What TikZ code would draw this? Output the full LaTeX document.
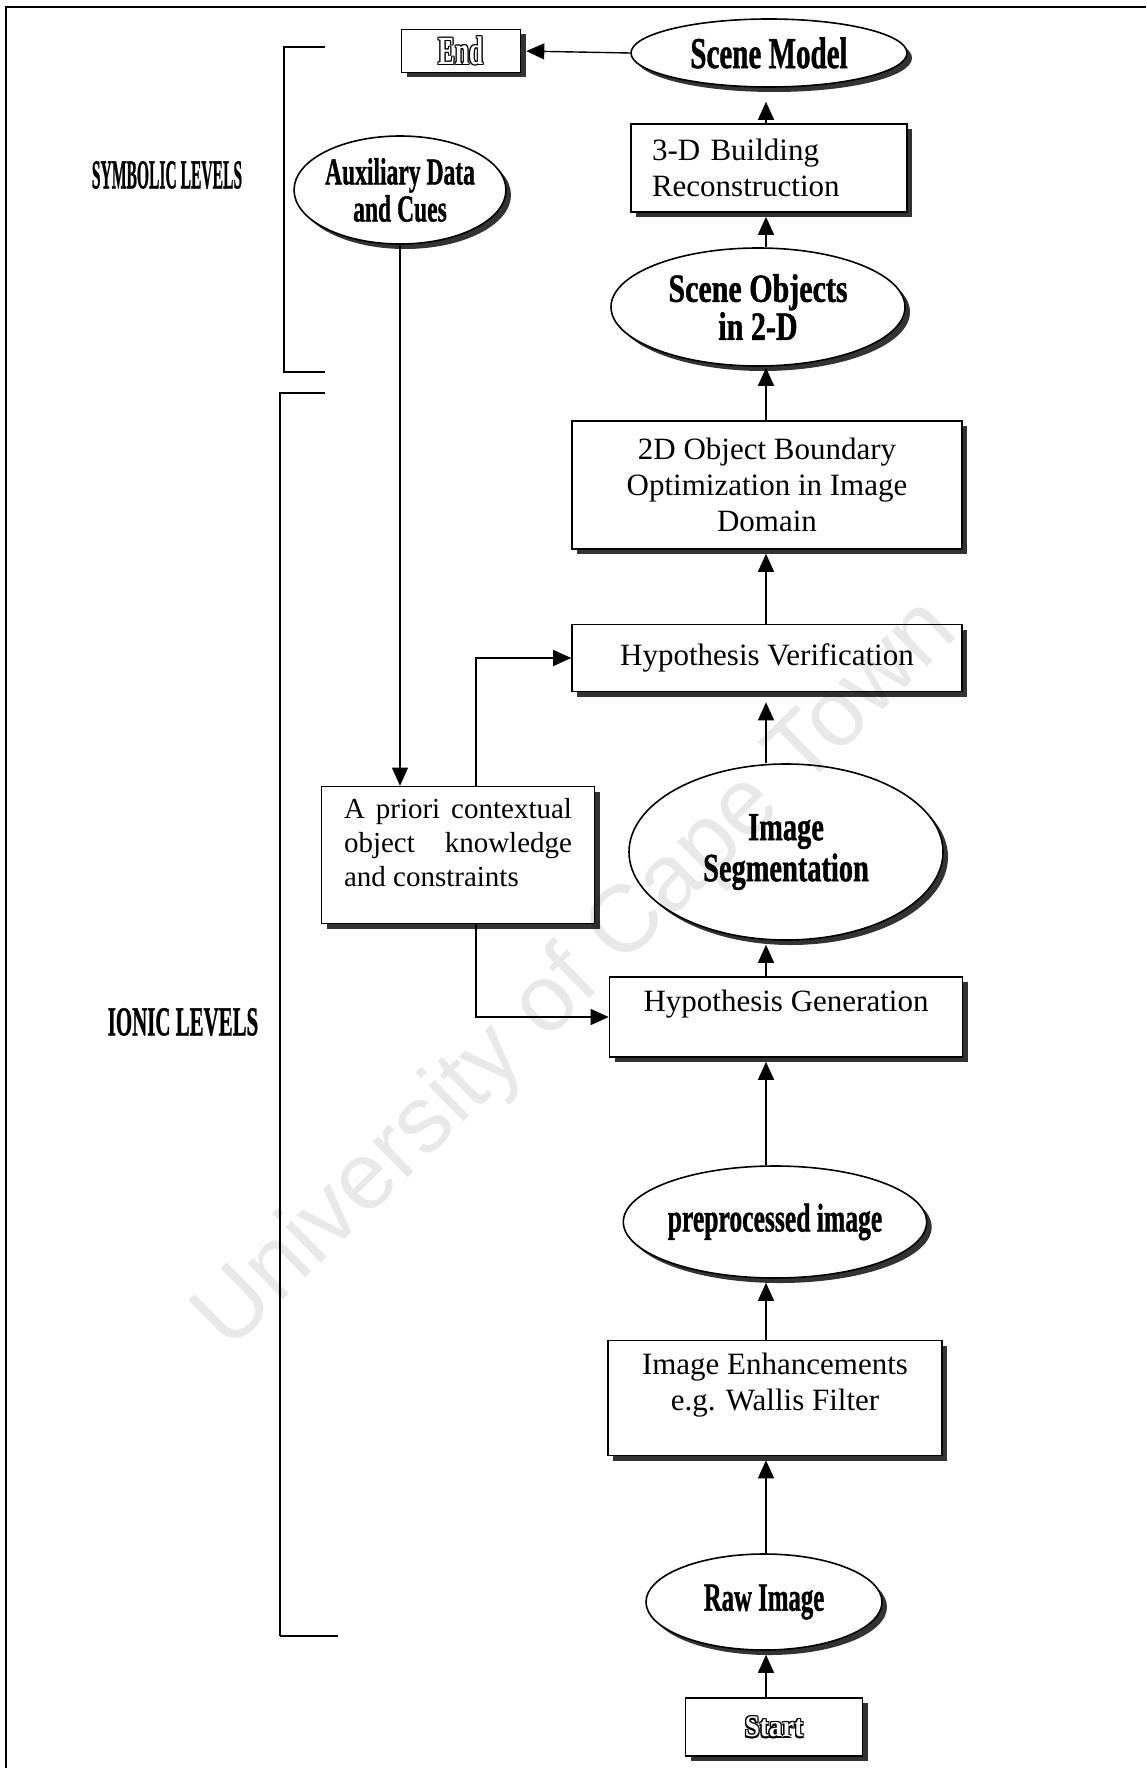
\documentclass[tikz,border=0pt]{standalone}
\usepackage{fontspec}
\usepackage{graphicx}
\setmainfont{Liberation Serif}
\newfontfamily\headfont{Liberation Serif Bold}[FakeBold=1.2]
\newfontfamily\plainbold{Liberation Serif Bold}
\newfontfamily\markfont{Liberation Sans}
\usetikzlibrary{shapes.geometric,shadows,arrows.meta}

% horizontally squeezed text
\newcommand\sq[2]{\scalebox{#1}[1]{#2}}
% outlined (hollow) lettering: black copies around a white core
\newcommand\hollow[2]{\leavevmode
  \rlap{\hspace*{-#1}#2}\rlap{\hspace*{#1}#2}%
  \rlap{\raisebox{#1}{#2}}\rlap{\raisebox{-#1}{#2}}%
  \rlap{\hspace*{-#1}\raisebox{#1}{#2}}\rlap{\hspace*{#1}\raisebox{#1}{#2}}%
  \rlap{\hspace*{-#1}\raisebox{-#1}{#2}}\rlap{\hspace*{#1}\raisebox{-#1}{#2}}%
  \textcolor{white}{#2}}

\begin{document}
\begin{tikzpicture}[x=1pt,y=-1pt,
  shade/.style={drop shadow={shadow xshift=5pt,shadow yshift=-5pt,fill=black!80,opacity=1}},
  box/.style={draw,line width=1.6pt,fill=white,rectangle,inner sep=0pt,shade,
    font=\fontsize{31}{36}\selectfont},
  oval/.style={draw,line width=1.6pt,fill=white,ellipse,inner sep=0pt,shade,align=center,
    font=\headfont\fontsize{40}{38}\selectfont},
  link/.style={line width=1.4pt,-{Triangle[width=16pt,length=18pt]},shorten >=4pt},
  side/.style={line width=1.1pt,-{Triangle[width=16pt,length=18pt]}},
  bracket/.style={line width=1.1pt},
  levelfont/.style={font=\headfont\fontsize{41}{41}\selectfont}
]
\useasboundingbox (0,0) rectangle (1146,1768);

% page frame (top and left edges)
\draw[line width=1.6pt] (1146,7) -- (6,7) -- (6,1768);

% level brackets
\draw[bracket] (325,47) -- (284,47) -- (284,372) -- (325,372);
\draw[bracket] (325,393) -- (280,393) -- (280,1636);
\draw[line width=2.6pt] (280,1636) -- (338,1636);
\node[levelfont] (symlab) at (167,175) {\sq{0.38}{SYMBOLIC LEVELS}};
\node[levelfont] (ionlab) at (183,1022) {\sq{0.51}{IONIC LEVELS}};

% main chain
\node[box,minimum width=119pt,minimum height=43pt] (endb) at (461,51)
  {\plainbold\fontsize{40}{40}\selectfont\sq{0.63}{\hollow{1.1pt}{End}}};
\node[oval,minimum width=276pt,minimum height=68pt,font=\headfont\fontsize{44}{44}\selectfont]
  (model) at (769,53) {\sq{0.66}{Scene Model}};
\node[box,minimum width=276pt,minimum height=88pt,text width=234pt,align=left]
  (recon) at (769,168) {3-D Building\\Reconstruction};
\node[oval,minimum width=294pt,minimum height=118pt] (objects) at (758,307)
  {\sq{0.75}{Scene Objects}\\\sq{0.75}{in 2-D}};
\node[oval,minimum width=198pt,minimum height=108pt,font=\headfont\fontsize{38}{37}\selectfont]
  (aux) at (400,190) {\sq{0.62}{Auxiliary Data}\\\sq{0.62}{and Cues}};
\node[box,minimum width=390pt,minimum height=128pt,align=center] (bound) at (767,485)
  {2D Object Boundary\\Optimization in Image\\Domain};
\node[box,minimum width=390pt,minimum height=67pt] (verif) at (767,658)
  {Hypothesis Verification};
\node[box,minimum width=273pt,minimum height=137pt,align=left,text depth=25pt,
  font=\fontsize{29}{34}\selectfont] (apriori) at (458,855)
  {\makebox[228pt][s]{A priori contextual}\\\makebox[228pt][s]{object knowledge}\\and constraints};
\node[oval,minimum width=314pt,minimum height=176pt,font=\headfont\fontsize{40}{41}\selectfont]
  (seg) at (786,852) {\sq{0.71}{Image}\\\sq{0.71}{Segmentation}};
\node[box,minimum width=353pt,minimum height=80pt,text depth=33pt] (gen) at (786,1017)
  {Hypothesis Generation};
\node[oval,minimum width=260pt,minimum height=112pt] (pre) at (775,1222)
  {\sq{0.64}{preprocessed image}};
\node[box,minimum width=334pt,minimum height=115pt,align=center,text depth=33pt]
  (enh) at (775,1398) {Image Enhancements\\e.g. Wallis Filter};
\node[oval,minimum width=236pt,minimum height=96pt] (raw) at (764,1602)
  {\sq{0.62}{Raw Image}};
\node[box,minimum width=177pt,minimum height=58pt] (start) at (774,1727)
  {\plainbold\fontsize{30}{30}\selectfont\sq{0.9}{\hollow{1.3pt}{Start}}};

% flow connectors along the main column
\coordinate (col) at (766,0);
\draw[link] (start.north -| col) -- (raw.south -| col);
\draw[link] (raw.north -| col) -- (enh.south -| col);
\draw[link] (enh.north -| col) -- (pre.south -| col);
\draw[link] (pre.north -| col) -- (gen.south -| col);
\draw[link] (gen.north -| col) -- (seg.south -| col);
\draw[link,shorten >=10pt] (seg.north -| col) -- (verif.south -| col);
\draw[link] (verif.north -| col) -- (bound.south -| col);
\draw[link,shorten >=1pt] (bound.north -| col) -- (objects.south -| col);
\draw[link] (objects.north -| col) -- (recon.south -| col);
\draw[link,shorten >=14pt] (recon.north -| col) -- (model.south -| col);
\draw[link,shorten >=5pt] (model.west) -- (endb.east);

% context knowledge connectors
\coordinate (tap) at (476,0);
\draw[side] (aux.south) -- (apriori.north -| aux.south);
\draw[side] (apriori.north -| tap) |- (verif.west);
\draw[side] (apriori.south -| tap) |- (gen.west);

% watermark
\node[rotate=44.5,text=black,text opacity=0.09,font=\markfont\fontsize{95}{95}\selectfont]
  (mark) at (578,976) {University of Cape Town};
\end{tikzpicture}
\end{document}
